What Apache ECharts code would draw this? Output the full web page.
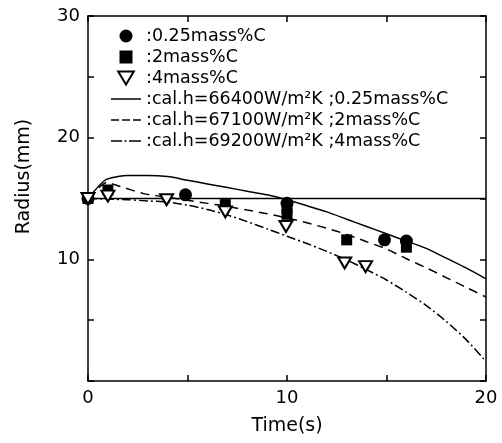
<!DOCTYPE html>
<html>
<head>
<meta charset="utf-8">
<script src="https://cdn.jsdelivr.net/npm/echarts@6/dist/echarts.min.js"></script>
<style>
  html, body { margin: 0; padding: 0; background: #fff; }
  #chart { width: 502px; height: 443px; }
</style>
</head>
<body>
<div id="chart"></div>
<script>
// Measured radius (mm) against time (s) for three carbon contents
const circleData = [[0, 15], [4.9, 15.3], [10, 14.6], [14.9, 11.6], [16, 11.5]];
const squareData = [[0, 15], [1, 15.7], [6.9, 14.5], [10, 14.2], [10, 13.7], [13, 11.6], [16, 11.0]];
const triangleData = [[0, 15], [1, 15.2], [3.95, 14.9], [6.9, 13.9], [9.95, 12.7], [12.9, 9.7], [13.95, 9.4]];

// Calculated radius curves
const calTime = [0, 0.85, 1.5, 2, 3, 4, 5, 6, 7, 8, 9, 10, 11, 12, 13, 14, 15, 16, 17, 18, 19, 20];
const cal025 = [15.0, 16.5, 16.8, 16.9, 16.9, 16.8, 16.5, 16.2, 15.9, 15.6, 15.3, 14.9, 14.4, 13.9, 13.3, 12.7, 12.1, 11.5, 10.9, 10.1, 9.3, 8.4];
const cal2Time = [0, 0.95, 1.6, 2.8, 4, 5, 6, 7, 8, 9, 10, 11, 12, 13, 14, 15, 16, 17, 18, 19, 20];
const cal2 = [15.0, 16.3, 16.0, 15.4, 15.1, 14.85, 14.6, 14.35, 14.05, 13.75, 13.4, 13.0, 12.55, 12.05, 11.45, 10.85, 10.05, 9.3, 8.5, 7.7, 6.9];
const cal4Time = [0, 1, 2, 3, 4, 5, 6, 7, 8, 9, 10, 11, 12, 13, 14, 15, 16, 17, 18, 19, 20];
const cal4 = [15.0, 14.95, 14.9, 14.8, 14.7, 14.45, 14.1, 13.65, 13.1, 12.5, 11.9, 11.3, 10.65, 9.95, 9.15, 8.3, 7.3, 6.2, 4.9, 3.4, 1.6];

// Initial radius reference line
const initialTime = [0, 20];
const initialRadius = [15, 15];

const xTickLabels = ['0', '10', '20'];
const yTickLabels = ['10', '20', '30'];

const FONT = 'DejaVu Sans';
const pairs = (xs, ys) => xs.map((x, i) => [x, ys[i]]);

const names = {
  c: '0.25mass%C',
  s: '2mass%C',
  t: '4mass%C',
  l1: 'cal.h=66400W/m²K ;0.25mass%C',
  l2: 'cal.h=67100W/m²K ;2mass%C',
  l3: 'cal.h=69200W/m²K ;4mass%C'
};

// Legend glyphs: marker shapes and short line samples
const ICON_SQUARE = 'path://M0,0h11v11h-11z';
const ICON_TRIANGLE = 'path://M0,0L12,0L6,10Z';
const ICON_SOLID = 'path://M0,0h30v1.5h-30z';
const ICON_DASHED = 'path://M0,0h8v1.5h-8z M11,0h8v1.5h-8z M22,0h8v1.5h-8z';
const ICON_DASHDOT = 'path://M0,0h11v1.5h-11z M13.5,0h2v1.5h-2z M18,0h12v1.5h-12z';

const axisCommon = {
  type: 'value',
  interval: 5,
  splitLine: { show: false },
  axisLine: { show: true, onZero: false, lineStyle: { color: '#000', width: 1.5 } },
  axisTick: { show: true, inside: true, length: 6, lineStyle: { color: '#000', width: 1.5 } }
};

const chart = echarts.init(document.getElementById('chart'), null, { renderer: 'canvas' });
chart.setOption({
  animation: false,
  backgroundColor: '#fff',
  grid: { left: 88, right: 16, top: 16, bottom: 62 },
  legend: {
    orient: 'vertical',
    left: 106,
    top: 22,
    itemWidth: 30,
    itemHeight: 13,
    itemGap: 3,
    symbolKeepAspect: true,
    data: [
      { name: names.c, icon: 'circle' },
      { name: names.s, icon: ICON_SQUARE },
      { name: names.t, icon: ICON_TRIANGLE },
      { name: names.l1, icon: ICON_SOLID },
      { name: names.l2, icon: ICON_DASHED },
      { name: names.l3, icon: ICON_DASHDOT }
    ],
    formatter: n => ':' + n,
    textStyle: { fontFamily: FONT, fontSize: 17.5, color: '#000' },
    selectedMode: false
  },
  xAxis: [
    Object.assign({}, axisCommon, {
      min: 0, max: 20, position: 'bottom',
      axisLabel: {
        fontFamily: FONT, fontSize: 18, color: '#000', margin: 8,
        formatter: v => xTickLabels.includes(String(v)) ? String(v) : ''
      },
      name: 'Time(s)', nameLocation: 'middle', nameGap: 36,
      nameTextStyle: { fontFamily: FONT, fontSize: 19, color: '#000' }
    }),
    Object.assign({}, axisCommon, {
      min: 0, max: 20, position: 'top', axisLabel: { show: false }
    })
  ],
  yAxis: [
    Object.assign({}, axisCommon, {
      min: 0, max: 30, position: 'left',
      axisLabel: {
        fontFamily: FONT, fontSize: 18, color: '#000', margin: 8,
        formatter: v => yTickLabels.includes(String(v)) ? String(v) : ''
      },
      name: 'Radius(mm)', nameLocation: 'middle', nameGap: 54,
      nameTextStyle: { fontFamily: FONT, fontSize: 19, color: '#000', padding: [0, 0, 0, 44] }
    }),
    Object.assign({}, axisCommon, {
      min: 0, max: 30, position: 'right', axisLabel: { show: false }
    })
  ],
  series: [
    {
      name: 'initial', type: 'line', data: pairs(initialTime, initialRadius),
      symbol: 'none', lineStyle: { color: '#000', width: 1.3 }, z: 1
    },
    {
      name: names.l1, type: 'line', data: pairs(calTime, cal025), smooth: 0.25,
      symbol: 'none', lineStyle: { color: '#000', width: 1.5, type: 'solid' },
      itemStyle: { color: '#000' }, z: 2
    },
    {
      name: names.l2, type: 'line', data: pairs(cal2Time, cal2), smooth: 0.25,
      symbol: 'none', lineStyle: { color: '#000', width: 1.5, type: [9, 6] },
      itemStyle: { color: '#000' }, z: 2
    },
    {
      name: names.l3, type: 'line', data: pairs(cal4Time, cal4), smooth: 0.25,
      symbol: 'none', lineStyle: { color: '#000', width: 1.5, type: [9, 3, 2, 3] },
      itemStyle: { color: '#000' }, z: 2
    },
    {
      name: names.c, type: 'scatter', data: circleData, symbol: 'circle', symbolSize: 13,
      itemStyle: { color: '#000', opacity: 1 }, z: 3
    },
    {
      name: names.s, type: 'scatter', data: squareData, symbol: 'rect', symbolSize: 11,
      itemStyle: { color: '#000', opacity: 1 }, z: 3
    },
    {
      name: names.t, type: 'scatter', data: triangleData, symbol: 'triangle',
      symbolSize: [13, 11], symbolRotate: 180,
      itemStyle: { color: '#fff', borderColor: '#000', borderWidth: 2, opacity: 1 }, z: 4
    }
  ]
});
</script>
</body>
</html>
